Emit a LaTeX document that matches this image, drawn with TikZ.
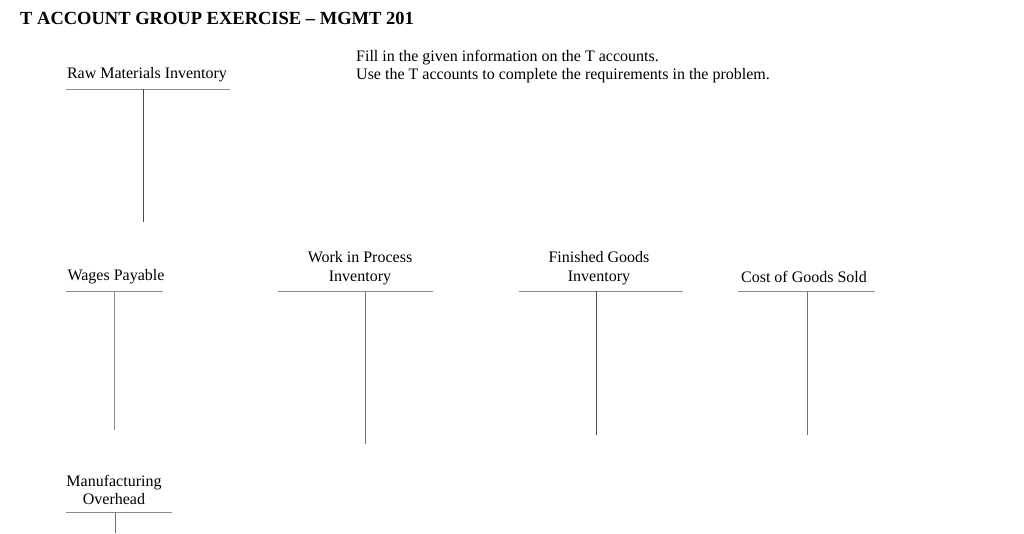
\documentclass[tikz,border=0pt]{standalone}
\usepackage{fontspec}
\setmainfont{Liberation Serif}
\begin{document}
\begin{tikzpicture}[x=1pt,y=-1pt,
  lbl/.style={font=\fontsize{16}{18.5}\selectfont, align=center, inner sep=0pt},
  hl/.style={draw=black!45, line width=0.8pt},
  vl/.style={draw=black!70, line width=0.8pt}]
\useasboundingbox (0,0) rectangle (1024,533);
\node[anchor=west, font=\bfseries\fontsize{18.5}{21}\selectfont, inner sep=0pt] (title) at (20,18) {T ACCOUNT GROUP EXERCISE -- MGMT 201};
\node[anchor=north west, lbl, align=left] (instr) at (356,50) {Fill in the given information on the T accounts.\\Use the T accounts to complete the requirements in the problem.};
% Raw Materials
\node[lbl] (rm) at (147,75) {Raw Materials Inventory};
\coordinate (rmL) at (66,89); \coordinate (rmR) at (230,89);
\coordinate (rmT) at (143,89); \coordinate (rmB) at (143,222);
\draw[hl] (rmL) -- (rmR); \draw[vl] (rmT) -- (rmB);
% Wages
\node[lbl] (wp) at (116,277) {Wages Payable};
\coordinate (wpL) at (66,291); \coordinate (wpR) at (163,291);
\coordinate (wpT) at (114,291); \coordinate (wpB) at (114,430);
\draw[hl] (wpL) -- (wpR); \draw[vl,draw=black!45] (wpT) -- (wpB);
% WIP
\node[lbl] (wip) at (360,268) {Work in Process\\Inventory};
\coordinate (wipL) at (278,291); \coordinate (wipR) at (433,291);
\coordinate (wipT) at (365,291); \coordinate (wipB) at (365,444);
\draw[hl] (wipL) -- (wipR); \draw[vl,draw=black!55] (wipT) -- (wipB);
% FG
\node[lbl] (fg) at (599,268) {Finished Goods\\Inventory};
\coordinate (fgL) at (519,291); \coordinate (fgR) at (683,291);
\coordinate (fgT) at (596,291); \coordinate (fgB) at (596,435);
\draw[hl] (fgL) -- (fgR); \draw[vl] (fgT) -- (fgB);
% COGS
\node[lbl] (cogs) at (804,277) {Cost of Goods Sold};
\coordinate (cL) at (738,291); \coordinate (cR) at (875,291);
\coordinate (cT) at (807,291); \coordinate (cB) at (807,435);
\draw[hl] (cL) -- (cR); \draw[vl,draw=black!55] (cT) -- (cB);
% MOH
\node[lbl] (moh) at (114,490) {Manufacturing\\Overhead};
\coordinate (mL) at (66,512); \coordinate (mR) at (172,512);
\coordinate (mT) at (115,512); \coordinate (mB) at (115,533);
\draw[hl] (mL) -- (mR); \draw[vl,draw=black!55] (mT) -- (mB);
\end{tikzpicture}
\end{document}
